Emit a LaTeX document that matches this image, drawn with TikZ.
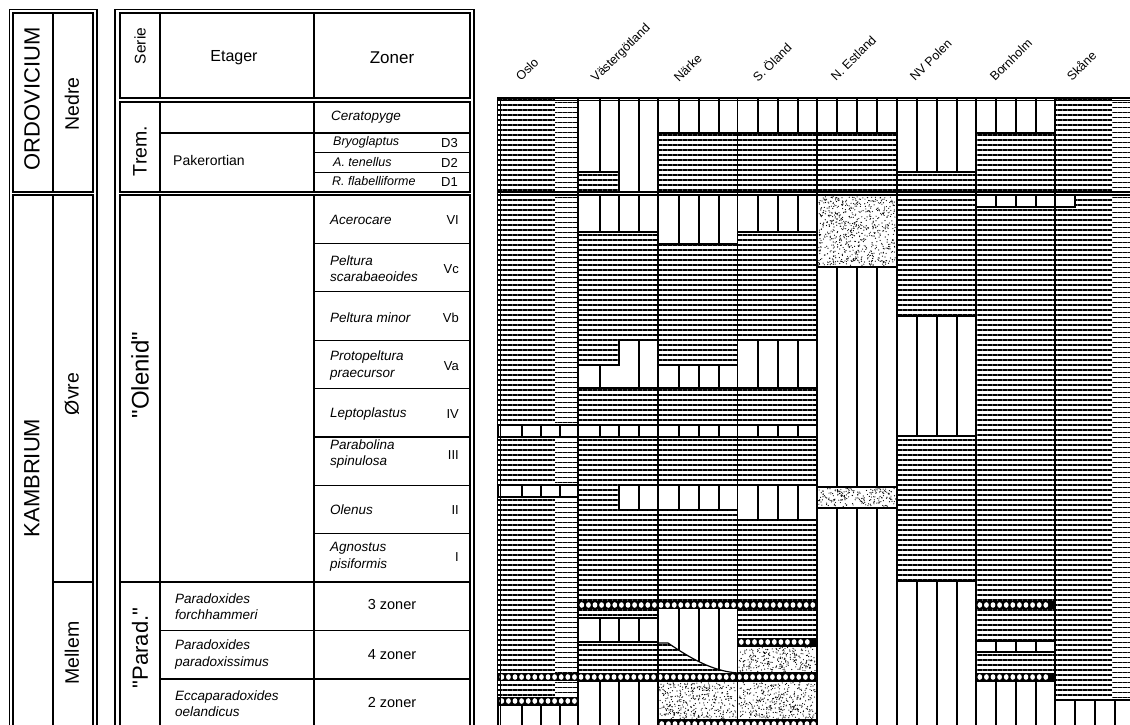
\documentclass[tikz,border=0pt]{standalone}
\usepackage{fontspec}
\setmainfont{Liberation Sans}
\usetikzlibrary{patterns.meta}
\newcommand\fsz[1]{\fontsize{#1}{#1}\selectfont}
\tikzset{
  tl/.style={line width=1.2pt},
  bl/.style={line width=1.2pt},
  colb/.style={line width=1.6pt},
  hz/.style={pattern={Lines[angle=0,distance=5pt,line width=1.5pt]}},
  hzs/.style={pattern={Lines[angle=0,distance=5pt,line width=1.5pt,yshift=2.5pt]}},
  zt/.style={font=\fontsize{13.5}{16.5}\selectfont\itshape, anchor=west, align=left, inner sep=0pt},
  num/.style={font=\fsz{13}, anchor=east, inner sep=0pt},
  lab/.style={rotate=45, font=\fsz{12.5}, anchor=base west, inner sep=0pt},
  big/.style={rotate=90, inner sep=0pt}
}
\newcommand\vbx[5]{%
  \filldraw[fill=white, bl] (#1,#2) rectangle (#3,#4);
  \foreach \d in {#5}{\draw[bl] (\d,#2) -- (\d,#4);}}
\newcommand\mystip[4]{%
  \fill[white] (#1,#2) rectangle (#3,#4);
  \pgfmathtruncatemacro\nd{(#3-#1)*(#4-#2)/8}%
  \foreach \i in {1,...,\nd}{%
    \pgfmathsetmacro\rx{#1+1.5+rnd*(#3-#1-3)}%
    \pgfmathsetmacro\ry{#2+1.5+rnd*(#4-#2-3)}%
    \fill (\rx,\ry) circle (0.6pt);}%
  \draw[bl] (#1,#2) rectangle (#3,#4);}
\newcommand\congl[3]{%
  \fill (#1,#3-4.2) rectangle (#2,#3+4.2);
  \pgfmathtruncatemacro\nc{(#2-#1-7)/6.6}%
  \foreach \i in {0,...,\nc}{\fill[white] ({#1+3.8+\i*6.6},#3) ellipse (2.4pt and 2.8pt);}}
\begin{document}
\begin{tikzpicture}[x=1pt,y=-1pt]
\useasboundingbox (0,0) rectangle (1130,725);
\fill[white] (0,0) rectangle (1130,725);
\clip (0,0) rectangle (1130,725);
\pgfmathsetseed{7}

% ---------- left block: system / series ----------
\draw[tl] (9.5,9.5) rectangle (97,760);
\draw[tl] (13,13) rectangle (93,192);
\draw[tl] (13,195) rectangle (93,760);
\draw[tl] (53,13) -- (53,192) (53,195) -- (53,760) (53,582) -- (93,582);
\node[big, font=\fsz{22}] (ordo) at (32,99) {ORDOVICIUM};
\node[big, font=\fsz{22}] (kamb) at (32,478) {KAMBRIUM};
\node[big, font=\fsz{19.5}] (nedre) at (72,104) {Nedre};
\node[big, font=\fsz{19.5}] (ovre) at (72,394) {Øvre};
\node[big, font=\fsz{19.5}] (mellem) at (72,653) {Mellem};

% ---------- table ----------
\draw[tl] (115,9.5) rectangle (474,760);
\draw[tl] (120,13) rectangle (470,98);
\draw[tl] (120,102) rectangle (470,192);
\draw[tl] (120,195) rectangle (470,760);
\draw[tl] (160,13)--(160,98) (160,102)--(160,192) (160,195)--(160,760);
\draw[tl] (314,13)--(314,98) (314,102)--(314,192) (314,195)--(314,760);
\draw[tl] (160,133)--(470,133);
\draw[tl] (314,152.5)--(470,152.5) (314,172.5)--(470,172.5);
\foreach \yy in {243.4,291.8,340.2,388.6,437,485.4,533.8}{\draw[tl] (314,\yy)--(470,\yy);}
\draw[tl] (120,582)--(470,582) (160,630.5)--(470,630.5) (160,679)--(470,679);

\node[big, font=\fsz{15.5}] (serie) at (140,46) {Serie};
\node[font=\fsz{16}] (etager) at (234,58) {Etager};
\node[font=\fsz{17}] (zoner) at (392,58) {Zoner};
\node[big, font=\fsz{19.5}] (trem) at (140,151) {Trem.};
\node[big, font=\fsz{24}] (olenid) at (140,375) {\textquotedbl Olenid\textquotedbl};
\node[big, font=\fsz{22}] (parad) at (140,648) {\textquotedbl Parad.\textquotedbl};
\node[font=\fsz{14}, anchor=west, inner sep=0pt] (paker) at (173,160) {Pakerortian};

\node[zt] (cera) at (331,117) {Ceratopyge};
\node[zt, font=\fsz{12.5}\itshape] (bryo) at (333,142.5) {Bryoglaptus};
\node[zt, font=\fsz{12.5}\itshape] (aten) at (333,162.5) {A. tenellus};
\node[zt, font=\fsz{12.5}\itshape] (rfla) at (332,181.5) {R. flabelliforme};
\node[num] (d3) at (458,143) {D3};
\node[num] (d2) at (458,163) {D2};
\node[num] (d1) at (458,182) {D1};

\node[zt] (acer) at (330,220) {Acerocare};
\node[zt] (pesc) at (330,268.5) {Peltura\\scarabaeoides};
\node[zt] (pemi) at (330,317.5) {Peltura minor};
\node[zt] (prot) at (330,365.5) {Protopeltura\\praecursor};
\node[zt] (lept) at (330,414) {Leptoplastus};
\node[zt] (para) at (330,454) {Parabolina\\spinulosa};
\node[zt] (olen) at (330,510) {Olenus};
\node[zt] (agno) at (330,557) {Agnostus\\pisiformis};
\node[num] (n6) at (459,220) {VI};
\node[num] (n5c) at (459,269) {Vc};
\node[num] (n5b) at (459,318) {Vb};
\node[num] (n5a) at (459,366) {Va};
\node[num] (n4) at (459,414) {IV};
\node[num] (n3) at (459,455) {III};
\node[num] (n2) at (459,510) {II};
\node[num] (n1) at (459,557) {I};

\node[zt] (pfor) at (175,606.5) {Paradoxides\\forchhammeri};
\node[zt] (ppar) at (175,654.5) {Paradoxides\\paradoxissimus};
\node[zt] (eoel) at (175,703.5) {Eccaparadoxides\\oelandicus};
\node[font=\fsz{14.5}] (z3) at (392,605) {3 zoner};
\node[font=\fsz{14.5}] (z4) at (392,655) {4 zoner};
\node[font=\fsz{14.5}] (z2) at (392,703) {2 zoner};

% ---------- column labels ----------
\node[lab] (lo) at (521,82) {Oslo};
\node[lab] (lv) at (596,83) {Västergötland};
\node[lab] (ln) at (679,83) {Närke};
\node[lab] (ls) at (758,83) {S. Öland};
\node[lab] (le) at (836,82) {N. Estland};
\node[lab] (lp) at (915,82) {NV Polen};
\node[lab] (lb) at (995,82) {Bornholm};
\node[lab] (lk) at (1072,82) {Skåne};

% ---------- chart background hatching ----------
\fill[hz] (498,98) rectangle (1135,192);
\fill[hz] (498,195) rectangle (1135,725);
\fill[white] (555,98) rectangle (578,192) (555,195) rectangle (578,725)
             (1112,98) rectangle (1135,192) (1112,195) rectangle (1135,725);
\fill[hzs] (555,98) rectangle (578,192) (555,195) rectangle (578,725)
           (1112,98) rectangle (1135,192) (1112,195) rectangle (1135,725);

% ---------- Ordovician part ----------
\filldraw[fill=white, bl] (578,98) -- (658,98) -- (658,192) -- (619,192) -- (619,172) -- (578,172) -- cycle;
\draw[bl] (600,98)--(600,172) (619,98)--(619,172) (639,98)--(639,192);
\vbx{658}{98}{737.5}{133}{679,699,719}
\vbx{737.5}{98}{817}{133}{758,778,798}
\vbx{817}{98}{897}{133}{837,857,877}
\vbx{897}{98}{976}{172}{917,937,957}
\vbx{976}{98}{1055}{133}{996,1016,1036}

% ---------- Cambrian part ----------
% Oslo
\vbx{498}{425}{578}{437}{522,541,560}
\vbx{498}{485}{578}{497}{522,541,560}
\vbx{498}{705}{578}{730}{522,541,560}
% Vastergotland
\vbx{578}{195}{658}{232}{600,619,639}
\filldraw[fill=white, bl] (619,340) -- (658,340) -- (658,388) -- (578,388) -- (578,365) -- (619,365) -- cycle;
\draw[bl] (600,365)--(600,388) (639,340)--(639,388);
\vbx{578}{425}{658}{437}{600,619,639}
\vbx{619}{485}{658}{510}{639}
\vbx{578}{618}{658}{642}{600,619,639}
\vbx{578}{681}{658}{730}{600,619,639}
% Narke
\vbx{658}{195}{737.5}{244}{679,699,719}
\vbx{658}{365}{737.5}{388}{679,699,719}
\vbx{658}{425}{737.5}{437}{679,699,719}
\vbx{658}{485}{737.5}{510}{679,699,719}
\fill[white] (658,609) -- (737.5,609) -- (737.5,673) .. controls (712,671) and (690,658) .. (668,643) -- (658,643) -- cycle;
\begin{scope}
  \clip (658,609) -- (737.5,609) -- (737.5,673) .. controls (712,671) and (690,658) .. (668,643) -- (658,643) -- cycle;
  \draw[bl] (679,609)--(679,680) (699,609)--(699,680) (719,609)--(719,680);
\end{scope}
\draw[bl] (658,643) -- (668,643) .. controls (690,658) and (712,671) .. (737.5,673);
\mystip{658}{681}{737.5}{720}
% S. Oland
\vbx{737.5}{195}{817}{232}{758,778,798}
\vbx{737.5}{340}{817}{388}{758,778,798}
\vbx{737.5}{425}{817}{437}{758,778,798}
\vbx{737.5}{485}{817}{520}{758,778,798}
\mystip{737.5}{646}{817}{673}
\mystip{737.5}{681}{817}{720}
% N. Estland
\mystip{817}{195}{897}{267}
\vbx{817}{267}{897}{487}{837,857,877}
\mystip{817}{487}{897}{508}
\vbx{817}{508}{897}{730}{837,857,877}
% NV Polen
\vbx{897}{316}{976}{436}{917,937,957}
\vbx{897}{581}{976}{730}{917,937,957}
% Bornholm
\vbx{976}{195}{1075}{207}{996,1016,1036,1055}
\vbx{976}{641}{1055}{652}{996,1016,1036}
\vbx{976}{681}{1055}{730}{996,1016,1036}
% Skane
\vbx{1055}{700}{1135}{730}{1075,1095,1115}

% conglomerate bands
\congl{578}{817}{605}
\congl{976}{1055}{605}
\congl{737.5}{817}{642}
\congl{498}{817}{677}
\congl{976}{1055}{677}
\congl{498}{578}{701}
\congl{658}{817}{724}

% ---------- frame and column borders ----------
\fill[white] (498,192) rectangle (1135,195);
\draw[bl] (498,192) -- (1135,192) (498,195) -- (1135,195);
\draw[colb] (497,98) -- (1135,98);
\draw[line width=0.8pt] (500,100.5) -- (1135,100.5);
\draw[colb] (497.5,97) -- (497.5,725);
\draw[line width=0.8pt] (500.5,100.5) -- (500.5,725);
\foreach \xx in {578,658,737.5,817,897,976,1055}{\draw[colb] (\xx,98) -- (\xx,725);}
\end{tikzpicture}
\end{document}
